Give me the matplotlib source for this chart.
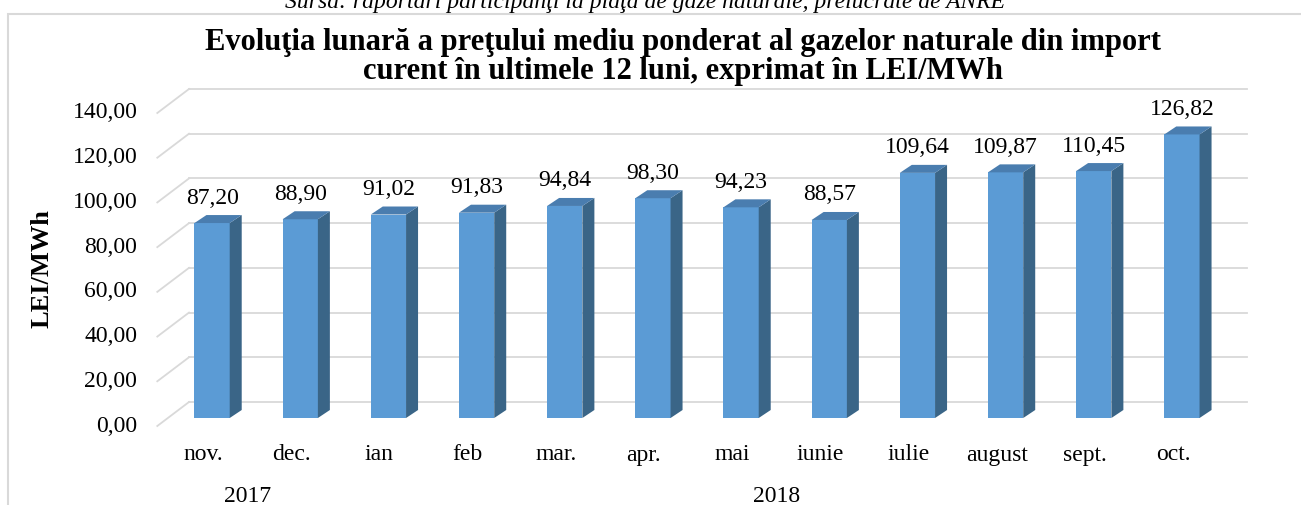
import matplotlib
matplotlib.use('Agg')
import matplotlib.pyplot as plt
from matplotlib.patches import Polygon, Rectangle

months = ['nov.', 'dec.', 'ian', 'feb', 'mar.', 'apr.', 'mai', 'iunie',
          'iulie', 'august', 'sept.', 'oct.']
prices = [87.20, 88.90, 91.02, 91.83, 94.84, 98.30, 94.23, 88.57,
          109.64, 109.87, 110.45, 126.82]
years = ['2017', '2018']
year_spans = [(0, 1), (2, 11)]
yticks = [0, 20, 40, 60, 80, 100, 120, 140]

title = ('Evoluţia lunară a preţului mediu ponderat al gazelor naturale din import\n'
         'curent în ultimele 12 luni, exprimat în LEI/MWh')
source = 'Sursa: raportări participanţi la piaţa de gaze naturale, prelucrate de ANRE'

plt.rcParams['font.family'] = ['Liberation Serif', 'DejaVu Serif']

W, H = 1301, 505
fig = plt.figure(figsize=(W / 100, H / 100), dpi=100)

# axes = front plane of the bars (pixel geometry)
ax_l, ax_b, ax_w, ax_h = 168, 87, 1058, 313
ax = fig.add_axes([ax_l / W, ax_b / H, ax_w / W, ax_h / H])
ax.set_xlim(-0.5, 11.5)
ax.set_ylim(0, 140)
ax.axis('off')

pxx = ax_w / 12.0     # pixels per category
pxy = ax_h / 140.0    # pixels per value unit

def dx(p):
    return p / pxx

def dy(p):
    return p / pxy

grid_c = '#D9D9D9'
wall = (21, 16)     # back wall offset from bar plane (right, up) in px
front = (-10.7, -8)  # front edge offset

for v in yticks:
    ax.plot([-0.5 + dx(wall[0]), 11.5 + dx(wall[0])], [v + dy(wall[1])] * 2,
            color=grid_c, lw=1.3, clip_on=False, zorder=1)
    ax.plot([-0.5 + dx(front[0]), -0.5 + dx(wall[0])],
            [v + dy(front[1]), v + dy(wall[1])],
            color=grid_c, lw=1.3, clip_on=False, zorder=1)
    ax.text(-0.5 + dx(front[0] - 20), v + dy(front[1]), f'{v:.2f}'.replace('.', ','),
            ha='right', va='center', fontsize=17)

bw = 0.2
depth = (12, 8)
c_front, c_side, c_top = '#5B9BD5', '#3A6587', '#4A7DAF'
for i, v in enumerate(prices):
    ax.add_patch(Rectangle((i - bw, 0), 2 * bw, v, facecolor=c_front,
                           edgecolor='none', zorder=3))
    ax.add_patch(Polygon([(i + bw, 0), (i + bw, v),
                          (i + bw + dx(depth[0]), v + dy(depth[1])),
                          (i + bw + dx(depth[0]), dy(depth[1]))],
                         closed=True, facecolor=c_side, edgecolor='none', zorder=3))
    ax.add_patch(Polygon([(i - bw, v), (i + bw, v),
                          (i + bw + dx(depth[0]), v + dy(depth[1])),
                          (i - bw + dx(depth[0]), v + dy(depth[1]))],
                         closed=True, facecolor=c_top, edgecolor='none', zorder=3))
    ax.text(i, v + dy(depth[1] + 17), f'{v:.2f}'.replace('.', ','),
            ha='center', va='center', fontsize=17)
    ax.text(i + dx(-9), dy(-37), months[i], ha='center', va='center', fontsize=17)

for yr, (a, b) in zip(years, year_spans):
    ax.text((a + b) / 2 + dx(-9), dy(-79), yr, ha='center', va='center', fontsize=17)

fig.text(42 / W, 1 - 269 / H, 'LEI/MWh', rotation=90, ha='center', va='center',
         fontsize=19, fontweight='bold')
fig.text(683 / W, 1 - 57 / H, title, ha='center', va='center', fontsize=22,
         fontweight='bold', linespacing=1.0)
fig.text(645 / W, 1 - 8 / H, source, ha='center', va='baseline', fontsize=17,
         style='italic')

fig.add_artist(Rectangle((8 / W, -0.1), 1.2, 1 - 14 / H + 0.1,
                         transform=fig.transFigure, fill=False,
                         edgecolor=grid_c, lw=1.5))

fig.savefig('out.png', dpi=100)
